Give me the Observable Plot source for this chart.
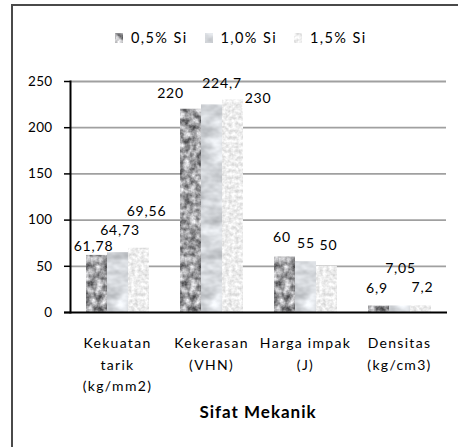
<!DOCTYPE html>
<html>
<head>
<meta charset="utf-8">
<script src="https://cdn.jsdelivr.net/npm/d3@7"></script>
<script src="https://cdn.jsdelivr.net/npm/@observablehq/plot@0.6"></script>
<style>
  html, body { margin: 0; padding: 0; background: #fff; overflow: hidden; width: 458px; height: 447px; }
  body { position: relative; font-family: Lato, "Open Sans", sans-serif; color: #000; }
  #frame { position: absolute; left: 11px; top: 4px; width: 480px; height: 480px; border: 2px solid #4a4a4a; box-sizing: border-box; }
  #legend { position: absolute; left: 115px; top: 29px; display: flex; align-items: center; font-size: 14.5px; letter-spacing: 1.4px; line-height: 18px; }
  #legend .item { display: flex; align-items: center; margin-right: 17px; }
  #legend svg { margin-right: 8px; }
  .layer { position: absolute; left: 0; top: 50px; }
  #title { position: absolute; left: 70px; width: 376px; top: 402px; text-align: center; font-weight: bold; font-size: 17px; line-height: 20px; letter-spacing: 1px; }
  g[aria-label="x-axis tick label"] text { letter-spacing: 1.3px; }
  g[aria-label="text"] text { letter-spacing: 0.8px; }
  g[aria-label="y-axis tick label"] text { letter-spacing: 0.3px; }
</style>
</head>
<body>
<svg width="0" height="0" style="position:absolute">
  <defs>
    <filter id="tex0" x="0" y="0" width="1" height="1" color-interpolation-filters="sRGB">
      <feTurbulence type="fractalNoise" baseFrequency="0.16" numOctaves="3" seed="3" result="n"/>
      <feColorMatrix in="n" type="matrix" values="1.05 0 0 0 0.1  1.05 0 0 0 0.1  1.05 0 0 0 0.11  0 0 0 0 1" result="m"/>
      <feComposite in="m" in2="SourceGraphic" operator="in"/>
    </filter>
    <filter id="tex1" x="0" y="0" width="1" height="1" color-interpolation-filters="sRGB">
      <feTurbulence type="fractalNoise" baseFrequency="0.05 0.08" numOctaves="3" seed="7" result="n"/>
      <feColorMatrix in="n" type="matrix" values="0.45 0 0 0 0.6  0.45 0 0 0 0.612  0.45 0 0 0 0.628  0 0 0 0 1" result="m"/>
      <feComposite in="m" in2="SourceGraphic" operator="in"/>
    </filter>
    <filter id="tex2" x="0" y="0" width="1" height="1" color-interpolation-filters="sRGB">
      <feTurbulence type="fractalNoise" baseFrequency="0.3" numOctaves="2" seed="11" result="n"/>
      <feColorMatrix in="n" type="matrix" values="0.28 0 0 0 0.79  0.28 0 0 0 0.79  0.28 0 0 0 0.79  0 0 0 0 1" result="m"/>
      <feComposite in="m" in2="SourceGraphic" operator="in"/>
    </filter>
  </defs>
</svg>
<div id="frame"></div>
<div id="legend"></div>
<div id="gridLayer" class="layer"></div>
<div id="barLayer" class="layer"></div>
<div id="axisLayer" class="layer"></div>
<div id="title"></div>
<script>
// ---- data ----
const categories = ["Kekuatan tarik (kg/mm2)", "Kekerasan (VHN)", "Harga impak (J)", "Densitas (kg/cm3)"];
const categoryTickLabels = ["Kekuatan\ntarik\n(kg/mm2)", "Kekerasan\n(VHN)", "Harga impak\n(J)", "Densitas\n(kg/cm3)"];
const series = ["0,5% Si", "1,0% Si", "1,5% Si"];
const si05 = [61.78, 220, 60, 6.9];
const si10 = [64.73, 224.7, 55, 7.05];
const si15 = [69.56, 230, 50, 7.2];
const yTicks = [0, 50, 100, 150, 200, 250];
const axisTitle = "Sifat Mekanik";

// ---- styling (label nudges in px, per series x category) ----
const labelNudges = [
  [[-3.5, -9], [-20.5, -16], [-3, -20], [-2, -18]],
  [[2, -22], [10, -21], [0, -18], [0.5, -37]],
  [[7.5, -37], [25, -1.5], [1.5, -21], [1.5, -18]]
];
const baseColors = ["#a5a5a5", "#d6d9dc", "#ececec"];
const filterIds = ["tex0", "tex1", "tex2"];

const seriesValues = [si05, si10, si15];
const rows = categories.flatMap((c, i) => series.map((s, j) => ({
  category: c, series: s, value: seriesValues[j][i], nudge: labelNudges[j][i]
})));
const fmt = v => String(v).replace(".", ",");

const common = {
  width: 458, height: 397,
  marginTop: 31, marginBottom: 135, marginLeft: 70, marginRight: 12,
  style: { fontFamily: "Lato, 'Open Sans', sans-serif", color: "#000", background: "transparent", overflow: "visible" },
  y: { domain: [0, 250], axis: null }
};
const band = { domain: categories, paddingInner: 0.32, paddingOuter: 0.16 };

// layer 1: grid lines
const gridPlot = Plot.plot({
  ...common,
  x: { ...band, axis: null },
  marks: [
    Plot.gridY(yTicks.filter(t => t > 0), { stroke: "#a0a0a0", strokeOpacity: 1, strokeWidth: 1.8 })
  ]
});

// layer 2: grouped bars and value labels (faceted by category)
const barPlot = Plot.plot({
  ...common,
  fx: { ...band, axis: null },
  x: { domain: series, padding: 0, axis: null },
  color: { domain: series, range: baseColors },
  marks: [
    Plot.barY(rows, { fx: "category", x: "series", y: "value", fill: "series" }),
    ...rows.map(r => Plot.text([r], {
      fx: "category", x: "series", y: "value", text: d => fmt(d.value),
      dx: r.nudge[0], dy: r.nudge[1], lineAnchor: "middle", fontSize: 14, fill: "#000"
    }))
  ]
});

// layer 3: axes
const axisPlot = Plot.plot({
  ...common,
  x: { ...band },
  marks: [
    Plot.ruleY([0], { stroke: "#000", strokeWidth: 2, insetLeft: -6, insetRight: -1 }),
    Plot.frame({ anchor: "left", stroke: "#000", strokeWidth: 2 }),
    Plot.axisY({ ticks: yTicks, tickSize: 6, tickPadding: 12, fontSize: 13.5, stroke: "#000", strokeWidth: 1.5, label: null }),
    Plot.axisX({ anchor: "bottom", tickSize: 0, tickPadding: 20, fontSize: 14, lineHeight: 1.55,
      tickFormat: c => categoryTickLabels[categories.indexOf(c)], label: null })
  ]
});

document.getElementById("gridLayer").appendChild(gridPlot);
document.getElementById("barLayer").appendChild(barPlot);
document.getElementById("axisLayer").appendChild(axisPlot);

// apply textures to bars by series fill colour
barPlot.querySelectorAll('g[aria-label="bar"] rect').forEach(rect => {
  const k = baseColors.indexOf(rect.getAttribute("fill"));
  if (k >= 0) rect.setAttribute("filter", `url(#${filterIds[k]})`);
});

// legend
const legend = d3.select("#legend");
series.forEach((s, j) => {
  const item = legend.append("div").attr("class", "item");
  const sw = item.append("svg").attr("width", 8).attr("height", 10);
  sw.append("rect").attr("width", 8).attr("height", 10).attr("fill", baseColors[j]).attr("filter", `url(#${filterIds[j]})`);
  item.append("span").text(s);
});
document.getElementById("title").textContent = axisTitle;
</script>
</body>
</html>
